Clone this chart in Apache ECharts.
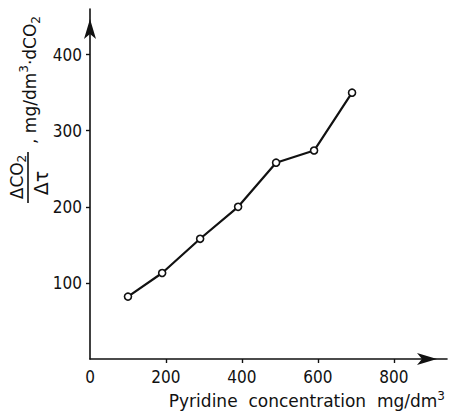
<!DOCTYPE html>
<html>
<head>
<meta charset="utf-8">
<script src="https://cdn.jsdelivr.net/npm/echarts@6/dist/echarts.min.js"></script>
<style>html,body{margin:0;padding:0;background:#fff;}#c{width:451px;height:419px;}</style>
</head>
<body>
<div id="c"></div>
<script>
var concentration = [100, 190, 290, 390, 490, 590, 690];
var co2Rate = [82, 113, 158, 200, 258, 274, 350];
var xTickValues = [200, 400, 600, 800];
var xLabelValues = [0, 200, 400, 600, 800];
var yTickValues = [100, 200, 300, 400];

var FONT = '"DejaVu Sans Condensed", "DejaVu Sans", sans-serif';
var WFONT = '"DejaVu Sans", sans-serif';
var INK = '#111';

var chart = echarts.init(document.getElementById('c'), null, {renderer: 'svg'});
var pts = concentration.map(function (x, i) { return [x, co2Rate[i]]; });

function xAxisBase(inside) {
  return {
    type: 'value', min: 0, max: 940, gridIndex: 0,
    splitLine: {show: false},
    axisLine: inside ? {show: false} : {
      show: true, onZero: false,
      lineStyle: {color: INK, width: 1.6},
      symbol: ['none', 'arrow'], symbolSize: [9, 20], symbolOffset: [0, -10]
    },
    axisTick: {show: true, inside: inside, length: 4, customValues: xTickValues,
      lineStyle: {color: INK, width: 1.2}},
    axisLabel: inside ? {show: false} : {
      show: true, customValues: xLabelValues, margin: 9,
      color: INK, fontSize: 17, fontFamily: FONT
    }
  };
}
function yAxisBase(inside) {
  return {
    type: 'value', min: 0, max: 460, gridIndex: 0,
    splitLine: {show: false},
    axisLine: inside ? {show: false} : {
      show: true, onZero: false,
      lineStyle: {color: INK, width: 1.6},
      symbol: ['none', 'arrow'], symbolSize: [9, 20], symbolOffset: [0, -10]
    },
    axisTick: {show: true, inside: inside, length: 4, customValues: yTickValues,
      lineStyle: {color: INK, width: 1.2}},
    axisLabel: inside ? {show: false} : {
      show: true, customValues: yTickValues, margin: 8,
      color: INK, fontSize: 17, fontFamily: FONT
    }
  };
}

chart.setOption({
  backgroundColor: '#fff',
  animation: false,
  grid: {left: 90, right: 4, top: 9, bottom: 60},
  xAxis: [xAxisBase(false), xAxisBase(true)],
  yAxis: [yAxisBase(false), yAxisBase(true)],
  series: [{
    type: 'line',
    data: pts,
    xAxisIndex: 0, yAxisIndex: 0,
    lineStyle: {color: INK, width: 2.2},
    symbol: 'circle', symbolSize: 7,
    itemStyle: {color: '#fff', borderColor: INK, borderWidth: 1.6},
    z: 3
  }],
  graphic: [
    {
      type: 'text', x: 445, y: 401,
      style: {
        text: '{a|Pyridine  concentration  mg/dm}{sup|3}',
        align: 'right', verticalAlign: 'middle',
        rich: {
          a: {fontSize: 17, fontFamily: WFONT, fill: INK, lineHeight: 22},
          sup: {fontSize: 12, fontFamily: WFONT, fill: INK, verticalAlign: 'top', lineHeight: 12}
        }
      }
    },
    {
      type: 'text', x: 17, y: 177, rotation: Math.PI / 2,
      style: {
        text: '{a|ΔCO}{sub|2}',
        align: 'center', verticalAlign: 'middle',
        rich: {
          a: {fontSize: 17, fontFamily: WFONT, fill: INK, lineHeight: 22},
          sub: {fontSize: 12, fontFamily: WFONT, fill: INK, verticalAlign: 'bottom', lineHeight: 12}
        }
      }
    },
    {
      type: 'line',
      shape: {x1: 28, y1: 152, x2: 28, y2: 203},
      style: {stroke: INK, lineWidth: 1.6}
    },
    {
      type: 'text', x: 41, y: 183, rotation: Math.PI / 2,
      style: {
        text: 'Δτ', align: 'center', verticalAlign: 'middle',
        fontSize: 19, fontFamily: WFONT, fill: INK
      }
    },
    {
      type: 'text', x: 30, y: 80, rotation: Math.PI / 2,
      style: {
        text: '{a|, mg/dm}{sup|3}{a|·dCO}{sub|2}',
        align: 'center', verticalAlign: 'middle',
        rich: {
          a: {fontSize: 17, fontFamily: WFONT, fill: INK, lineHeight: 24},
          sup: {fontSize: 12, fontFamily: WFONT, fill: INK, verticalAlign: 'top', lineHeight: 12},
          sub: {fontSize: 12, fontFamily: WFONT, fill: INK, verticalAlign: 'bottom', lineHeight: 12}
        }
      }
    }
  ]
});
</script>
</body>
</html>
